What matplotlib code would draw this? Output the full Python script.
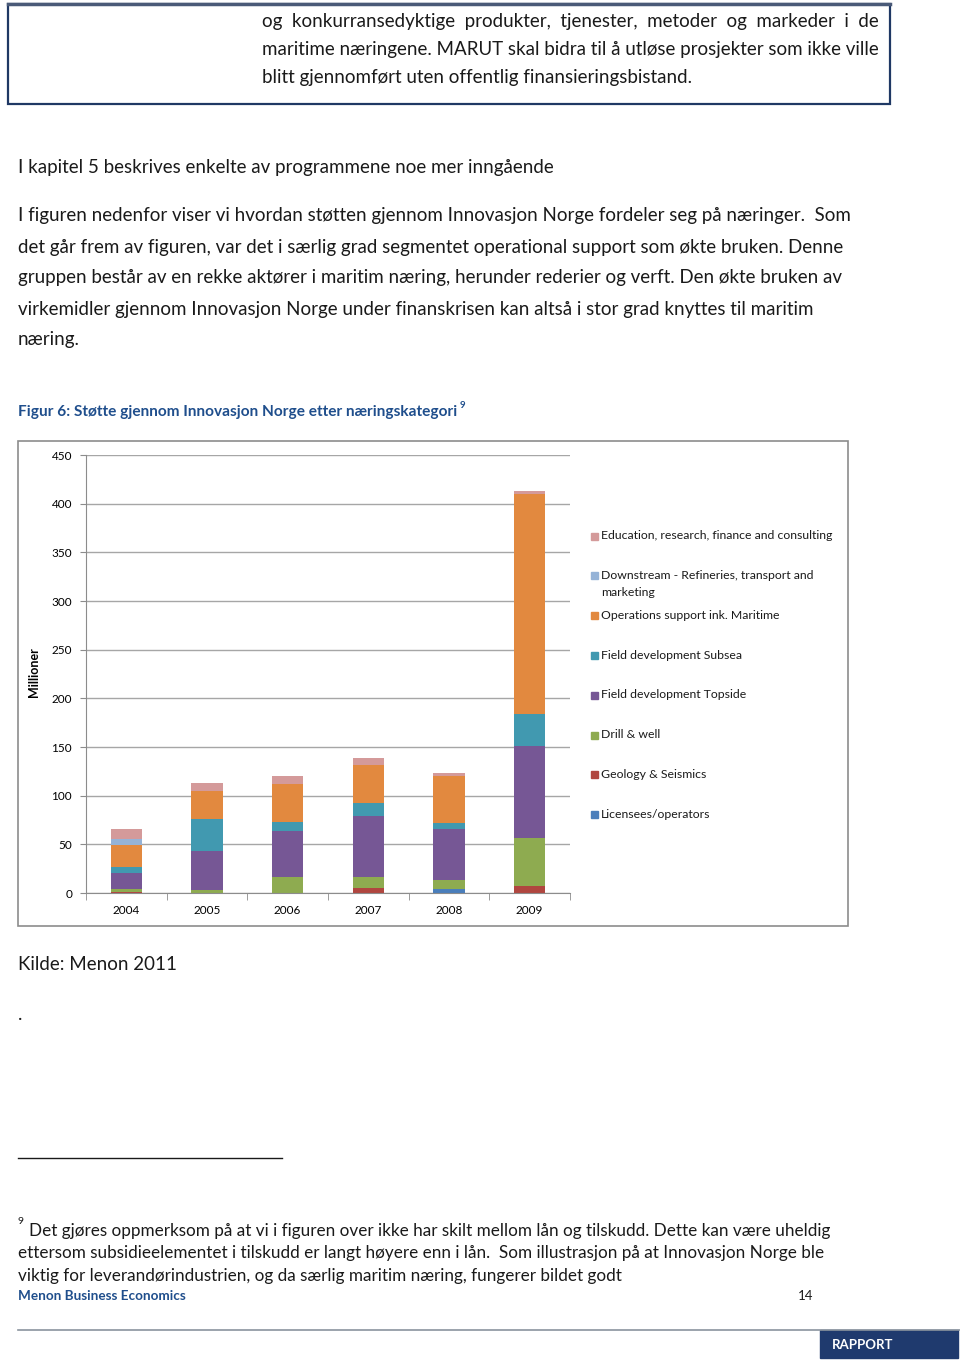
import matplotlib
matplotlib.use("Agg")
import matplotlib.pyplot as plt
from matplotlib.patches import Rectangle
from matplotlib.lines import Line2D
import numpy as np

plt.rcParams['font.family'] = ['Lato', 'DejaVu Sans']

# data (millioner NOK)
years = ['2004', '2005', '2006', '2007', '2008', '2009']
series = ['Licensees/operators', 'Geology & Seismics', 'Drill & well',
          'Field development Topside', 'Field development Subsea',
          'Operations support ink. Maritime',
          'Downstream - Refineries, transport and\nmarketing',
          'Education, research, finance and consulting']
licensees = [0.5, 0, 0, 0, 4.5, 0]
geology = [1, 0, 0, 5, 0, 7]
drill = [2.5, 3.4, 16.4, 11.3, 8.6, 49]
topside = [16.4, 40, 47.3, 62.3, 53, 95]
subsea = [6.8, 33, 9.2, 13.7, 5.5, 32.5]
operations = [22, 28.4, 39, 39.7, 48.3, 226]
downstream = [6.5, 0, 0, 0, 0, 0]
education = [10, 7.9, 8.6, 6.8, 3.4, 3.4]
values = [licensees, geology, drill, topside, subsea, operations, downstream, education]
colors = ['#4A7EBB', '#B0463F', '#8EAB50', '#765795', '#4199B0',
          '#E2893F', '#95B3D7', '#D49A9A']

W, H = 960, 1362
fig = plt.figure(figsize=(W / 100, H / 100), dpi=100)
navy = '#1F3864'
blue = '#1F4E8C'


def fx(x):
    return x / W


def fy(y):
    return 1 - y / H


def txt(x, y, s, **kw):
    kw.setdefault('fontsize', 13.5)
    kw.setdefault('va', 'center')
    kw.setdefault('color', '#1a1a1a')
    fig.text(fx(x), fy(y), s, **kw)


# top box
fig.add_artist(Rectangle((fx(8), fy(104)), fx(882), 100 / H, transform=fig.transFigure,
                         fill=False, edgecolor=navy, lw=1.6))
fig.add_artist(Line2D([fx(8), fx(890)], [fy(4), fy(4)], transform=fig.transFigure,
                      color='#4a5a78', lw=2.5))
txt(262, 21, 'og  konkurransedyktige  produkter,  tjenester,  metoder  og  markeder  i  de')
txt(262, 49, 'maritime næringene. MARUT skal bidra til å utløse prosjekter som ikke ville')
txt(262, 77, 'blitt gjennomført uten offentlig finansieringsbistand.')

# body text
txt(18, 167, 'I kapitel 5 beskrives enkelte av programmene noe mer inngående')
body = ['I figuren nedenfor viser vi hvordan støtten gjennom Innovasjon Norge fordeler seg på næringer.  Som',
        'det går frem av figuren, var det i særlig grad segmentet operational support som økte bruken. Denne',
        'gruppen består av en rekke aktører i maritim næring, herunder rederier og verft. Den økte bruken av',
        'virkemidler gjennom Innovasjon Norge under finanskrisen kan altså i stor grad knyttes til maritim',
        'næring.']
for i, line in enumerate(body):
    txt(18, 216 + i * 31, line)

txt(18, 412, 'Figur 6: Støtte gjennom Innovasjon Norge etter næringskategori',
    fontsize=11.1, fontweight='bold', color=blue)
txt(460, 405, '9', fontsize=7, fontweight='bold', color=blue)

# chart frame
fig.add_artist(Rectangle((fx(18), fy(926)), fx(830), 485 / H, transform=fig.transFigure,
                         fill=False, edgecolor='#8c8c8c', lw=1.2))

ax = fig.add_axes([fx(86), fy(893), fx(484), (893 - 455) / H])
x = np.arange(len(years))
bottom = np.zeros(len(years))
for vals, c, name in zip(values, colors, series):
    ax.bar(x, vals, 0.39, bottom=bottom, color=c, label=name)
    bottom += np.array(vals)

ax.set_xlim(-0.5, 5.5)
ax.set_ylim(0, 450)
ax.set_yticks(range(0, 451, 50))
ax.tick_params(axis='y', labelsize=8.5, length=4, color='#8c8c8c', pad=6)
ax.set_xticks(x)
ax.set_xticklabels(years, fontsize=8.5)
ax.tick_params(axis='x', length=0, pad=9)
ax.set_xticks(np.arange(-0.5, 6, 1), minor=True)
ax.tick_params(axis='x', which='minor', length=5, color='#8c8c8c')
ax.yaxis.grid(True, color='#a6a6a6', lw=1)
ax.set_axisbelow(True)
for s in ['top', 'right']:
    ax.spines[s].set_visible(False)
for s in ['left', 'bottom']:
    ax.spines[s].set_color('#8c8c8c')
ax.set_ylabel('Millioner', fontsize=9, fontweight='bold')
ax.yaxis.set_label_coords(-0.096, 0.505)

# legend (top entry = last series)
ly = 536
for name, c in zip(series[::-1], colors[::-1]):
    fig.add_artist(Rectangle((fx(591), fy(ly + 3.5)), 7 / W, 7 / H, transform=fig.transFigure,
                             color=c))
    lines = name.split('\n')
    for j, ln in enumerate(lines):
        txt(601, ly + j * 16, ln, fontsize=8.8)
    ly += 40 if len(lines) == 1 else 39

# source
txt(18, 964, 'Kilde: Menon 2011')
txt(18, 1015, '.')

# footnote
fig.add_artist(Line2D([fx(18), fx(282)], [fy(1158), fy(1158)], transform=fig.transFigure,
                      color='#1a1a1a', lw=1))
txt(18, 1222, '9', fontsize=7.5)
foot = ['Det gjøres oppmerksom på at vi i figuren over ikke har skilt mellom lån og tilskudd. Dette kan være uheldig',
        'ettersom subsidieelementet i tilskudd er langt høyere enn i lån.  Som illustrasjon på at Innovasjon Norge ble',
        'viktig for leverandørindustrien, og da særlig maritim næring, fungerer bildet godt']
txt(29, 1231, foot[0], fontsize=12.3)
txt(18, 1253, foot[1], fontsize=12.3)
txt(18, 1276, foot[2], fontsize=12.3)

# footer
txt(18, 1296, 'Menon Business Economics', fontsize=9.7, fontweight='bold', color=blue)
txt(798, 1296, '14', fontsize=9.5)
fig.add_artist(Line2D([fx(18), fx(960)], [fy(1330), fy(1330)], transform=fig.transFigure,
                      color='#8a949e', lw=1.2))
fig.add_artist(Rectangle((fx(820), fy(1358)), fx(138), 28 / H, transform=fig.transFigure,
                         color='#1F3A6E'))
txt(832, 1345, 'RAPPORT', fontsize=9.5, fontweight='bold', color='white')

fig.savefig('out.png', dpi=100)
